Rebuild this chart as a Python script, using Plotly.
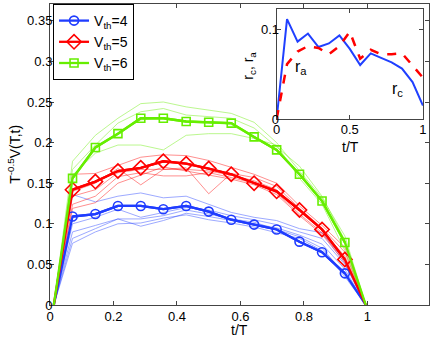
import plotly.graph_objs as go

# time grid (t/T) for the main curves and for the inset
t = [0.012, 0.071, 0.143, 0.214, 0.286, 0.357, 0.429, 0.5,
     0.571, 0.643, 0.714, 0.786, 0.857, 0.929, 0.995]
t_inset = [0, 0.071, 0.143, 0.214, 0.286, 0.357, 0.429, 0.5,
           0.571, 0.643, 0.714, 0.786, 0.857, 0.929, 1.0]

# thick averaged curves
v_th4 = [0, 0.109, 0.112, 0.122, 0.122, 0.118, 0.122, 0.115,
         0.105, 0.099, 0.093, 0.078, 0.065, 0.039, 0]
v_th5 = [0, 0.142, 0.152, 0.165, 0.169, 0.177, 0.174, 0.168,
         0.161, 0.150, 0.140, 0.117, 0.093, 0.056, 0]
v_th6 = [0, 0.156, 0.194, 0.211, 0.230, 0.230, 0.226, 0.225,
         0.224, 0.207, 0.191, 0.161, 0.128, 0.077, 0]

# thin individual curves
thin_th4 = [
    [0, 0.136, 0.127, 0.134, 0.138, 0.132, 0.134, 0.124, 0.114, 0.108, 0.104, 0.094, 0.089, 0.052, 0],
    [0, 0.100, 0.108, 0.118, 0.108, 0.114, 0.120, 0.117, 0.110, 0.105, 0.099, 0.090, 0.082, 0.050, 0],
    [0, 0.090, 0.098, 0.106, 0.097, 0.104, 0.113, 0.109, 0.104, 0.100, 0.095, 0.086, 0.075, 0.044, 0],
    [0, 0.082, 0.094, 0.106, 0.106, 0.110, 0.117, 0.112, 0.106, 0.102, 0.093, 0.084, 0.070, 0.038, 0],
    [0, 0.076, 0.090, 0.100, 0.101, 0.107, 0.111, 0.105, 0.101, 0.096, 0.089, 0.082, 0.067, 0.035, 0],
]
thin_th5 = [
    [0, 0.161, 0.162, 0.172, 0.182, 0.185, 0.184, 0.178, 0.170, 0.161, 0.150, 0.122, 0.098, 0.071, 0],
    [0, 0.140, 0.150, 0.168, 0.148, 0.167, 0.169, 0.137, 0.162, 0.157, 0.146, 0.119, 0.095, 0.065, 0],
    [0, 0.134, 0.142, 0.163, 0.167, 0.167, 0.167, 0.165, 0.160, 0.153, 0.142, 0.115, 0.092, 0.060, 0],
    [0, 0.124, 0.134, 0.158, 0.163, 0.159, 0.159, 0.163, 0.157, 0.150, 0.138, 0.112, 0.089, 0.055, 0],
    [0, 0.119, 0.126, 0.150, 0.160, 0.170, 0.165, 0.160, 0.155, 0.148, 0.136, 0.110, 0.087, 0.052, 0],
]
thin_th6 = [
    [0, 0.177, 0.209, 0.230, 0.248, 0.250, 0.244, 0.240, 0.236, 0.225, 0.200, 0.165, 0.132, 0.085, 0],
    [0, 0.167, 0.197, 0.224, 0.238, 0.242, 0.234, 0.232, 0.230, 0.218, 0.195, 0.171, 0.134, 0.080, 0],
    [0, 0.160, 0.187, 0.197, 0.197, 0.191, 0.209, 0.211, 0.211, 0.205, 0.197, 0.156, 0.124, 0.067, 0],
    [0, 0.157, 0.193, 0.212, 0.228, 0.230, 0.226, 0.225, 0.222, 0.206, 0.190, 0.162, 0.130, 0.078, 0],
]

# inset curves
r_c = [0, 0.111, 0.086, 0.095, 0.080, 0.084, 0.093, 0.078,
       0.060, 0.073, 0.068, 0.063, 0.056, 0.041, 0.015]
r_a = [0, 0.061, 0.075, 0.081, 0.079, 0.072, 0.081, 0.097,
       0.067, 0.077, 0.072, 0.072, 0.073, 0.060, 0.046]

BLUE = '#1f3cff'
RED = '#ff0000'
GREEN = '#66ee00'
FONT = 'Liberation Sans, Arial, sans-serif'

groups = [
    ('V<sub>th</sub>=4', v_th4, thin_th4, BLUE, 'circle-open', 9),
    ('V<sub>th</sub>=5', v_th5, thin_th5, RED, 'diamond-open', 11),
    ('V<sub>th</sub>=6', v_th6, thin_th6, GREEN, 'square-open', 8),
]

data = []
for name, mean, thins, color, symbol, msize in groups:
    for curve in thins:
        data.append(go.Scatter(
            x=t, y=curve, mode='lines',
            line=dict(color=color, width=0.8),
            opacity=0.55, showlegend=False, hoverinfo='skip'))
for name, mean, thins, color, symbol, msize in groups:
    # full line down to the end points, then markers on the inner points
    data.append(go.Scatter(
        x=t, y=mean, mode='lines', showlegend=False,
        line=dict(color=color, width=2.3)))
    data.append(go.Scatter(
        x=t[1:-1], y=mean[1:-1], mode='lines+markers', name=name,
        line=dict(color=color, width=2.3),
        marker=dict(symbol=symbol, size=msize, color=color,
                    line=dict(width=1.6, color=color))))

data.append(go.Scatter(
    x=t_inset, y=r_c, mode='lines', xaxis='x2', yaxis='y2',
    line=dict(color='#2040ff', width=2), showlegend=False))
data.append(go.Scatter(
    x=t_inset, y=r_a, mode='lines', xaxis='x2', yaxis='y2',
    line=dict(color=RED, width=2.5, dash='dash'), showlegend=False))

axis_style = dict(
    showline=True, linecolor='#444', linewidth=1, mirror='ticks',
    ticks='inside', ticklen=4, tickcolor='#444',
    showgrid=False, zeroline=False,
    tickfont=dict(family=FONT, size=13, color='black'))

layout = go.Layout(
    width=436, height=338,
    margin=dict(l=50, r=4, t=3, b=33),
    paper_bgcolor='white', plot_bgcolor='white',
    font=dict(family=FONT, size=13, color='black'),
    xaxis=dict(range=[0, 1.194], tickvals=[0, 0.2, 0.4, 0.6, 0.8, 1],
               ticktext=['0', '0.2', '0.4', '0.6', '0.8', '1'],
               ticklabelstandoff=-1, **axis_style),
    yaxis=dict(range=[0, 0.3707],
               tickvals=[0, 0.05, 0.1, 0.15, 0.2, 0.25, 0.3, 0.35],
               ticktext=['0', '0.05', '0.1', '0.15', '0.2', '0.25', '0.3', '0.35'],
               ticklabelstandoff=-6, **axis_style),
    xaxis2=dict(domain=[0.598, 0.984], anchor='y2', range=[0, 1],
                tickvals=[0, 0.5, 1], ticktext=['0', '0.5', '1'],
                ticklabelstandoff=-2, **axis_style),
    yaxis2=dict(domain=[0.618, 0.9825], anchor='x2', range=[0, 0.122],
                tickvals=[0, 0.1], ticktext=['0', '0.1'],
                ticklabelstandoff=-6, **axis_style),
    legend=dict(x=0.008, y=1.0, xanchor='left', yanchor='top',
                bgcolor='white', bordercolor='black', borderwidth=1,
                font=dict(family=FONT, size=14), tracegroupgap=0),
    shapes=[dict(type='rect', xref='paper', yref='paper',
                 x0=0.598, x1=0.984, y0=0.618, y1=0.9825,
                 fillcolor='white', line=dict(width=0), layer='below')],
    annotations=[
        dict(text='t/T', xref='paper', yref='paper', x=0.5, y=-0.083,
             showarrow=False, font=dict(size=14), xanchor='center', yanchor='middle'),
        dict(text='T<sup>-0.5</sup>V(T,t)', xref='paper', yref='paper',
             x=-0.097, y=0.5, textangle=-90, showarrow=False,
             font=dict(size=14), xanchor='center', yanchor='middle'),
        dict(text='t/T', xref='paper', yref='paper', x=0.793, y=0.525,
             showarrow=False, font=dict(size=14), xanchor='center', yanchor='middle'),
        dict(text='r<sub>c</sub>, r<sub>a</sub>', xref='paper', yref='paper',
             x=0.525, y=0.795, textangle=-90, showarrow=False,
             font=dict(size=14), xanchor='center', yanchor='middle'),
        dict(text='r<sub>a</sub>', xref='x2', yref='y2', x=0.167, y=0.057,
             showarrow=False, font=dict(size=16)),
        dict(text='r<sub>c</sub>', xref='x2', yref='y2', x=0.824, y=0.033,
             showarrow=False, font=dict(size=16)),
    ])

fig = go.Figure(data=data, layout=layout)
fig.write_html('out.html',
               config={'displayModeBar': False},
               post_script="document.body.style.margin='0';"
                           "document.body.style.padding='0';")
